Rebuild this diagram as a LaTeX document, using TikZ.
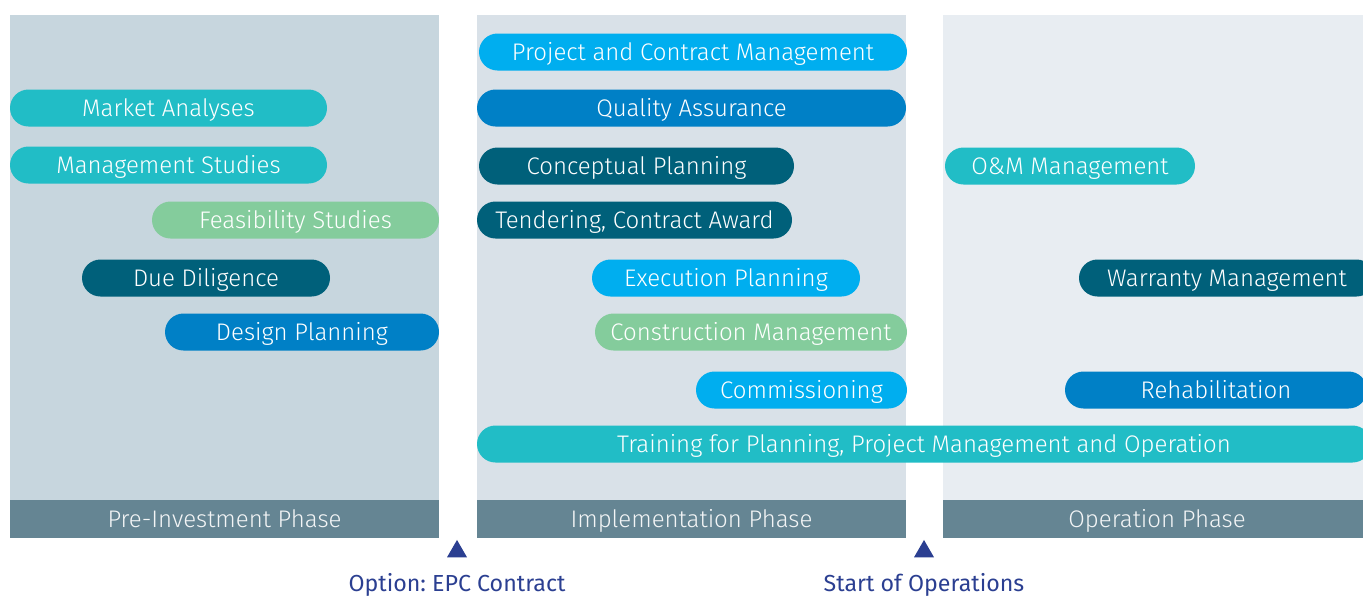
\documentclass[tikz,border=0pt]{standalone}
\usepackage{fontspec}
\setmainfont{Fira Sans}[UprightFont=* Light]
\newfontfamily\labelfont{Fira Sans}
\frenchspacing
\usepackage{tikz}
\usetikzlibrary{shapes, positioning}
\definecolor{paneone}{HTML}{C7D6DE}
\definecolor{panetwo}{HTML}{D9E1E8}
\definecolor{panethree}{HTML}{E8EDF2}
\definecolor{footgray}{HTML}{658593}
\definecolor{barteal}{HTML}{21BDC6}
\definecolor{barsky}{HTML}{00AEEF}
\definecolor{barblue}{HTML}{0080C6}
\definecolor{bardark}{HTML}{00607A}
\definecolor{bargreen}{HTML}{84CC9C}
\definecolor{navy}{HTML}{2B3F91}
\tikzstyle{bar} = [rounded rectangle, minimum height=18.5pt, inner sep=0pt, text height=8.3pt, text depth=0pt, text=white, font=\fontsize{12}{14}\selectfont]
\tikzstyle{tealbar} = [bar, fill=barteal]
\tikzstyle{skybar} = [bar, fill=barsky]
\tikzstyle{bluebar} = [bar, fill=barblue]
\tikzstyle{darkbar} = [bar, fill=bardark]
\tikzstyle{greenbar} = [bar, fill=bargreen]
\tikzstyle{footer} = [rectangle, minimum height=19pt, inner sep=0pt, text height=8.3pt, text depth=0pt, fill=footgray, text=white!92!footgray, font=\fontsize{12}{14}\selectfont]
\tikzstyle{milestone} = [regular polygon, regular polygon sides=3, minimum size=11.55pt, inner sep=0pt, fill=navy]
\tikzstyle{mslabel} = [text=navy, inner sep=0pt, text height=8.3pt, text depth=0pt, font=\labelfont\fontsize{11.6}{14}\selectfont]

\begin{document}
\begin{tikzpicture}[x=0.5pt, y=-0.5pt, node distance=15.75pt]
\useasboundingbox (0,0) rectangle (1363,595);
\clip (0,0) rectangle (1363,595);
% phase panels
\fill [paneone] (10,15) rectangle (439,538);
\fill [panetwo] (477,15) rectangle (906,538);
\fill [panethree] (943,15) rectangle (1380,538);
\node (pre) [footer, minimum width=214.5pt] at (224.5,519) {Pre-Investment Phase};
\node (impl) [footer, minimum width=214.5pt] at (691.5,519) {Implementation Phase};
\node (oper) [footer, minimum width=214pt] at (1157,519) {Operation Phase};

% activities
\node (pcm) [skybar, minimum width=214pt] at (693,52) {Project and Contract Management};
\node (market) [tealbar, minimum width=158.5pt] at (168.5,108) {Market Analyses};
\node (qa) [bluebar, minimum width=214.5pt] at (691.5,108) {Quality Assurance};
\node (mstudies) [tealbar, minimum width=158.5pt] at (168.5,165) {Management Studies};
\node (concept) [darkbar, minimum width=157.5pt] at (636.5,166) {Conceptual Planning};
\node (om) [tealbar, minimum width=125pt] at (1070,166) {O\&M Management};
\node (feas) [greenbar, minimum width=143.5pt] at (295.5,220) {Feasibility Studies};
\node (tender) [darkbar, minimum width=157.5pt] at (634.5,220) {Tendering, Contract Award};
\node (due) [darkbar, minimum width=124pt] at (206,278) {Due Diligence};
\node (exec) [skybar, minimum width=134pt] at (726,278) {Execution Planning};
\node (warranty) [darkbar, minimum width=148pt] at (1227,278) {Warranty Management};
\node (design) [bluebar, minimum width=137pt] at (302,332) {Design Planning};
\node (constr) [greenbar, minimum width=156pt] at (751,332) {Construction Management};
\node (comm) [skybar, minimum width=105.5pt] at (801.5,390) {Commissioning};
\node (rehab) [bluebar, minimum width=151pt] at (1216,390) {Rehabilitation};
\node (train) [tealbar, minimum width=447pt] at (924,444) {Training for Planning, Project Management and Operation};

% milestones
\node (epc) [milestone] at (457,551.5) {};
\node (start) [milestone] at (924,551.5) {};
\node (epclabel) [mslabel, below of=epc] {Option: EPC Contract};
\node (startlabel) [mslabel, below of=start] {Start of Operations};
\end{tikzpicture}
\end{document}
